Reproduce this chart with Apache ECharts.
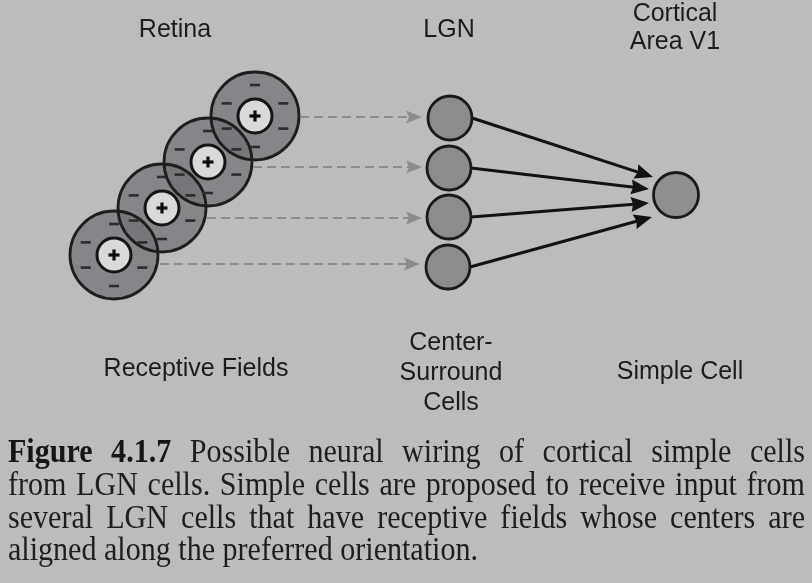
<!DOCTYPE html>
<html>
<head>
<meta charset="utf-8">
<style>
html, body { margin: 0; padding: 0; background: #babcbd; }
#main { width: 812px; height: 583px; }
</style>
<script src="https://cdn.jsdelivr.net/npm/echarts@6/dist/echarts.min.js"></script>
</head>
<body>
<div id="main"></div>
<script>
// diagram data, in the hidden axis units (0..812 x 0..583)
var fieldCenters = [[114, 255], [162, 208], [208, 162], [255, 116]];
var lgnCenters = [[450, 118], [449, 168], [449, 217], [448, 267]];
var v1Centers = [[676, 195]];
var feedLines = [[300, 117, 422, 117], [253, 167, 422, 167], [207, 218, 422, 218], [160, 264, 420, 264]];
var wiringLines = [[472, 118, 653, 177], [471, 168, 649, 189], [471, 217, 649, 203], [470, 267, 652, 217]];

var topLabels = ['Retina', 'LGN', 'Cortical\nArea V1'];
var bottomLabels = ['Receptive Fields', 'Center-\nSurround\nCells', 'Simple Cell'];
var captionLines = [
    'Figure 4.1.7 Possible neural wiring of cortical simple cells',
    'from LGN cells. Simple cells are proposed to receive input from',
    'several LGN cells that have receptive fields whose centers are',
    'aligned along the preferred orientation.'
];

var myChart = echarts.init(document.getElementById('main'));

var OUTER_R = 44, INNER_R = 17, MINUS_R = 31;
var minusAngles = [-90, -24, 24, 90, 156, 204];

function fieldFill(params, api) {
    var c = api.coord([api.value(0), api.value(1)]);
    return {
        type: 'circle',
        shape: { cx: c[0], cy: c[1], r: OUTER_R },
        style: { fill: 'rgba(112,114,116,0.72)' }
    };
}

function fieldMarks(params, api) {
    var c = api.coord([api.value(0), api.value(1)]);
    var children = [
        { type: 'circle', shape: { cx: c[0], cy: c[1], r: OUTER_R }, style: { fill: 'none', stroke: '#1e1e1e', lineWidth: 2.8 } },
        { type: 'circle', shape: { cx: c[0], cy: c[1], r: INNER_R }, style: { fill: '#d8d9da', stroke: '#141414', lineWidth: 3 } },
        { type: 'rect', shape: { x: c[0] - 5.5, y: c[1] - 1.6, width: 11, height: 3.2 }, style: { fill: '#0e0e0e' } },
        { type: 'rect', shape: { x: c[0] - 1.6, y: c[1] - 5.5, width: 3.2, height: 11 }, style: { fill: '#0e0e0e' } }
    ];
    minusAngles.forEach(function (a) {
        var rad = a * Math.PI / 180;
        var mx = c[0] + MINUS_R * Math.cos(rad), my = c[1] + MINUS_R * Math.sin(rad);
        children.push({ type: 'rect', shape: { x: mx - 5, y: my - 1.3, width: 10, height: 2.6 }, style: { fill: '#2c2c2c' } });
    });
    return { type: 'group', children: children };
}

function arrowRenderer(st) {
    return function (params, api) {
        var p0 = api.coord([api.value(0), api.value(1)]);
        var p1 = api.coord([api.value(2), api.value(3)]);
        var dx = p1[0] - p0[0], dy = p1[1] - p0[1];
        var len = Math.sqrt(dx * dx + dy * dy);
        var ux = dx / len, uy = dy / len;
        var bx = p1[0] - ux * st.head, by = p1[1] - uy * st.head;
        return {
            type: 'group',
            children: [
                { type: 'line', shape: { x1: p0[0], y1: p0[1], x2: bx + ux * 3, y2: by + uy * 3 },
                  style: { stroke: st.color, lineWidth: st.width, lineDash: st.dash } },
                { type: 'polygon', shape: { points: [
                    [p1[0], p1[1]],
                    [bx - uy * st.half, by + ux * st.half],
                    [bx + ux * st.notch, by + uy * st.notch],
                    [bx + uy * st.half, by - ux * st.half]
                  ] }, style: { fill: st.color } }
            ]
        };
    };
}

// caption: words justified across the line, condensed serif
var CAP_SIZE = 34, CAP_LEFT = 8, CAP_RIGHT = 805, CAP_LAST_END = 478;
var capMid = [453, 486, 519, 551];
var ctx = document.createElement('canvas').getContext('2d');
function measure(t, bold) {
    ctx.font = (bold ? 'bold ' : '') + CAP_SIZE + 'px "Liberation Serif"';
    return ctx.measureText(t).width;
}
// the last (unjustified) line sets the condensing
var capScale = (CAP_LAST_END - CAP_LEFT) / measure(captionLines[3], false);
var graphics = [];
captionLines.forEach(function (line, i) {
    var words = line.split(' ');
    var widths = words.map(function (w, j) { return measure(w, i === 0 && j < 2) * capScale; });
    var total = widths.reduce(function (a, b) { return a + b; }, 0);
    var gap = i === captionLines.length - 1 ? measure(' ') * capScale : (CAP_RIGHT - CAP_LEFT - total) / (words.length - 1);
    var x = CAP_LEFT;
    words.forEach(function (w, j) {
        var bold = i === 0 && j < 2;
        graphics.push({
            type: 'text', x: x, y: capMid[i], scaleX: capScale, silent: true,
            style: { text: w, fontSize: CAP_SIZE, fontFamily: 'Liberation Serif', fontWeight: bold ? 'bold' : 'normal',
                     fill: bold ? '#151515' : '#1e1e1e', align: 'left', verticalAlign: 'middle' }
        });
        x += widths[j] + gap;
    });
});

function label(text, x, y, lh) {
    return {
        type: 'text', x: x, y: y, silent: true,
        style: { text: text, fontSize: 25, fontFamily: 'Liberation Sans', fill: '#1c1c1c',
                 align: 'center', verticalAlign: 'middle', lineHeight: lh || 28 }
    };
}
graphics.push(label(topLabels[0], 175, 30));
graphics.push(label(topLabels[1], 449, 30));
graphics.push(label(topLabels[2], 675, 28, 28.5));
graphics.push(label(bottomLabels[0], 196, 369));
graphics.push(label(bottomLabels[1], 451, 373, 30));
graphics.push(label(bottomLabels[2], 680, 372));

var option = {
    backgroundColor: '#babcbd',
    animation: false,
    grid: { left: 0, right: 0, top: 0, bottom: 0 },
    xAxis: { type: 'value', min: 0, max: 812, show: false },
    yAxis: { type: 'value', min: 0, max: 583, inverse: true, show: false },
    graphic: graphics,
    series: [
        { type: 'custom', name: 'field fill', data: fieldCenters, renderItem: fieldFill, silent: true },
        { type: 'custom', name: 'field marks', data: fieldCenters, renderItem: fieldMarks, silent: true },
        { type: 'custom', name: 'feed', data: feedLines, encode: { x: [0, 2], y: [1, 3] }, silent: true,
          renderItem: arrowRenderer({ color: '#8b8c8d', width: 2, dash: [9, 5], head: 16, half: 6.5, notch: 3 }) },
        { type: 'custom', name: 'wiring', data: wiringLines, encode: { x: [0, 2], y: [1, 3] }, silent: true,
          renderItem: arrowRenderer({ color: '#121212', width: 3, dash: null, head: 18, half: 7.5, notch: 2 }) },
        { type: 'scatter', name: 'LGN', data: lgnCenters, symbolSize: 44, silent: true,
          itemStyle: { color: '#8a8c8e', borderColor: '#1a1a1a', borderWidth: 2.8, opacity: 1 } },
        { type: 'scatter', name: 'V1', data: v1Centers, symbolSize: 45, silent: true,
          itemStyle: { color: '#8d8f91', borderColor: '#1a1a1a', borderWidth: 2.8, opacity: 1 } }
    ]
};

myChart.setOption(option);
</script>
</body>
</html>
